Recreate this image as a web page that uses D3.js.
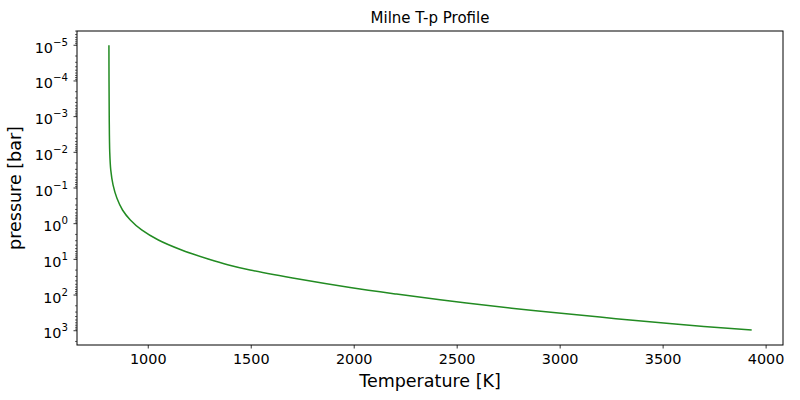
<!DOCTYPE html>
<html>
<head>
<meta charset="utf-8">
<script src="https://cdn.jsdelivr.net/npm/d3@7"></script>
<style>
  body { margin: 0; background: white; }
  text { font-family: "DejaVu Sans", sans-serif; fill: black; }
</style>
</head>
<body>
<svg id="chart"></svg>
<script>
//DATA
var pressure = [1e-5, 1e-4, 1e-3, 0.01, 0.0316, 0.082, 0.195, 0.414, 0.789, 1.5, 2.87, 5.47, 9.78, 14.4, 19.9, 36.2, 61.5, 93.6, 168, 271, 415, 632, 960];
var temperature = [809, 809.5, 810.5, 813, 818, 829, 848, 875, 913, 968, 1049, 1162, 1291, 1390, 1494, 1737, 1980, 2205, 2545, 2869, 3193, 3530, 3930];
var xTicks = [1000, 1500, 2000, 2500, 3000, 3500, 4000];
var yExps = [-5, -4, -3, -2, -1, 0, 1, 2, 3];

//SET UP THE CANVAS
var w = 800;
var h = 400;
var mLeft = 77, mRight = 783, mTop = 31, mBottom = 345;

var svg = d3.select("#chart")
     .attr("width", w)
     .attr("height", h)
     .style("background-color", "white");

var xScale = d3.scaleLinear()
     .domain([654, 4082])
     .range([mLeft, mRight]);
var yScale = d3.scaleLog()
     .domain([Math.pow(10, -5.4), Math.pow(10, 3.4)])
     .range([mTop, mBottom]);

var points = pressure.map(function (p, i) { return [temperature[i], p]; });

//LINE
var lineMaker = d3.line()
     .curve(d3.curveCatmullRom.alpha(0.5))
     .x(function (d) { return xScale(d[0]); })
     .y(function (d) { return yScale(d[1]); });

svg.append("path")
     .attr("d", lineMaker(points))
     .attr("fill", "none")
     .attr("stroke", "#228B22")
     .attr("stroke-width", 1.5);

//X AXIS
var xAxis = svg.append("g");
xTicks.forEach(function (t) {
     var x = xScale(t);
     xAxis.append("line")
          .attr("x1", x).attr("x2", x)
          .attr("y1", mBottom).attr("y2", mBottom + 3.5)
          .attr("stroke", "black").attr("stroke-width", 0.8);
     xAxis.append("text")
          .attr("x", x).attr("y", mBottom + 19)
          .attr("text-anchor", "middle")
          .style("font-size", "14.4px")
          .text(t);
});

//Y AXIS (log, inverted)
var yAxis = svg.append("g");
yExps.forEach(function (e) {
     var y = yScale(Math.pow(10, e));
     yAxis.append("line")
          .attr("x1", mLeft - 3.5).attr("x2", mLeft)
          .attr("y1", y).attr("y2", y)
          .attr("stroke", "black").attr("stroke-width", 0.8);
     var label = yAxis.append("text")
          .attr("x", mLeft - 9).attr("y", y + 7.5)
          .attr("text-anchor", "end")
          .style("font-size", "14.4px");
     label.append("tspan").text("10");
     label.append("tspan")
          .attr("dy", -7)
          .style("font-size", "10.2px")
          .text(e < 0 ? "\u2212" + (-e) : String(e));
});
//minor ticks
for (var e = -6; e <= 3; e++) {
     for (var m = 2; m <= 9; m++) {
          var v = m * Math.pow(10, e);
          if (v < yScale.domain()[0] || v > yScale.domain()[1]) continue;
          var y = yScale(v);
          yAxis.append("line")
               .attr("x1", mLeft - 2).attr("x2", mLeft)
               .attr("y1", y).attr("y2", y)
               .attr("stroke", "black").attr("stroke-width", 0.6);
     }
}

//FRAME
svg.append("rect")
     .attr("x", mLeft).attr("y", mTop)
     .attr("width", mRight - mLeft).attr("height", mBottom - mTop)
     .attr("fill", "none")
     .attr("stroke", "black")
     .attr("stroke-width", 1);

//TITLE AND LABELS
svg.append("text")
     .attr("x", (mLeft + mRight) / 2).attr("y", 23)
     .attr("text-anchor", "middle")
     .style("font-size", "15px")
     .text("Milne T-p Profile");

svg.append("text")
     .attr("x", (mLeft + mRight) / 2).attr("y", 387)
     .attr("text-anchor", "middle")
     .style("font-size", "17.5px")
     .text("Temperature [K]");

svg.append("text")
     .attr("transform", "translate(21," + (mTop + mBottom) / 2 + ") rotate(-90)")
     .attr("text-anchor", "middle")
     .style("font-size", "17.5px")
     .text("pressure [bar]");
</script>
</body>
</html>
